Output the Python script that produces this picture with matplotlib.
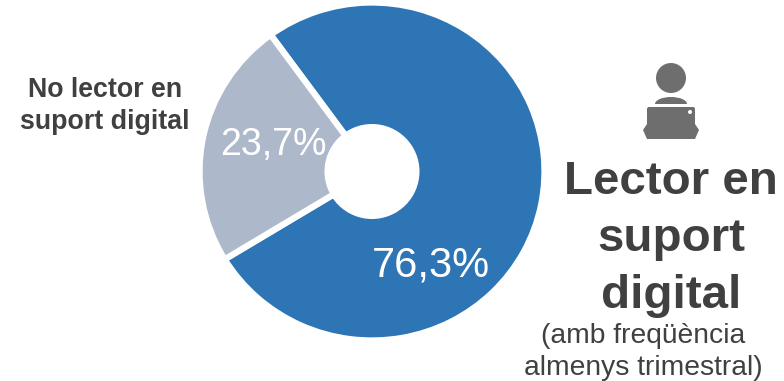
import matplotlib
matplotlib.use('Agg')
import matplotlib.pyplot as plt
from matplotlib.patches import Circle, Rectangle, Ellipse, FancyBboxPatch, Polygon

plt.rcParams['font.family'] = ['Liberation Sans', 'DejaVu Sans']

W, H = 784, 381
shares = [76.3, 23.7]
share_labels = ['76,3%', '23,7%']
colors = ['#2E75B6', '#ADB9CA']
side_label = 'No lector en\nsuport digital'
main_label = 'Lector en\nsuport\ndigital'
note_label = '(amb freqüència\nalmenys trimestral)'

fig = plt.figure(figsize=(W/100, H/100), dpi=100)

cx, cy, rx, ry = 372, 171.5, 172.5, 169
pie_ax = fig.add_axes([(cx-rx)/W, 1-(cy+ry)/H, 2*rx/W, 2*ry/H])
pie_ax.pie(shares, colors=colors, startangle=126, counterclock=False, radius=1.0,
           wedgeprops=dict(edgecolor='white', linewidth=4.5))
pie_ax.set_xlim(-1, 1); pie_ax.set_ylim(-1, 1)
pie_ax.set_aspect('auto')
pie_ax.add_patch(Ellipse((0, 0), 2*47.5/rx, 2*47.5/ry, fc='white', ec='none', zorder=5))

ax2 = fig.add_axes([0, 0, 1, 1], facecolor='none')
ax2.set_xlim(0, W); ax2.set_ylim(H, 0); ax2.axis('off')
ax2.text(431, 265, share_labels[0], color='white', fontsize=30, ha='center', va='center')
ax2.text(273.5, 145, share_labels[1], color='white', fontsize=27, ha='center', va='center')
ax2.text(105, 106, side_label, color='#404040', fontsize=19.3, fontweight='bold', ha='center', va='center', linespacing=1.28)
ax2.text(671, 239, main_label, color='#404040', fontsize=34.2, fontweight='bold', ha='center', va='center', linespacing=1.37)
ax2.text(643, 352, note_label, color='#404040', fontsize=20.3, ha='center', va='center', linespacing=1.3)

ic = '#6E6E6E'
ax2.add_patch(Circle((671, 78), 15, fc=ic, ec='none'))
ax2.add_patch(Ellipse((671, 104), 32, 14, fc=ic, ec='none'))
ax2.add_patch(Rectangle((650, 104), 42, 4, fc='white', ec='none', zorder=3))
ax2.add_patch(FancyBboxPatch((647, 107), 48, 24, boxstyle='round,pad=0,rounding_size=2', fc=ic, ec='none', zorder=4))
ax2.add_patch(Polygon([(647, 124), (695, 124), (699, 130), (695, 139), (647, 139), (643, 130)], fc=ic, ec='none', zorder=4))
ax2.add_patch(Circle((690, 112), 2, fc='white', ec='none', zorder=5))

fig.savefig('out.png', dpi=100)
